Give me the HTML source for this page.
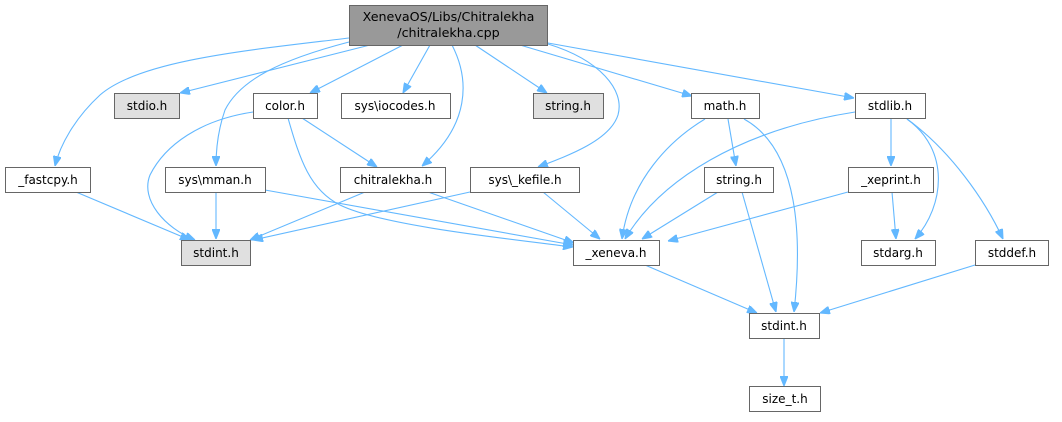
<!DOCTYPE html>
<html><head><meta charset="utf-8"><style>
html,body{margin:0;padding:0;background:#fff;}
text{font-family:"DejaVu Sans","Liberation Sans",sans-serif;font-size:12px;fill:#000;text-anchor:middle;}
rect{stroke:#666;stroke-width:1;}
path{fill:none;stroke:#63b8ff;stroke-width:1.1;}
</style></head><body>
<svg width="1062" height="417" viewBox="0 0 1062 417" xmlns="http://www.w3.org/2000/svg">
<defs><marker id="a" viewBox="0 0 10 8" refX="10" refY="4" markerWidth="10" markerHeight="8" markerUnits="userSpaceOnUse" orient="auto"><path d="M0,0 L10,4 L0,8 z" style="fill:#63b8ff;stroke:#63b8ff"/></marker></defs>
<g marker-end="url(#a)">
<path d="M349,38 C250,50 140,60 100,95 C75,118 60,145 55,166"/>
<path d="M370,45 L180,93"/>
<path d="M349,42 C280,60 240,80 225,110 C218,130 216,150 216,166"/>
<path d="M403,45 L310,93"/>
<path d="M430,45 L403,93"/>
<path d="M452,45 C470,80 470,125 422,166"/>
<path d="M475,45 L547,93"/>
<path d="M548,44 C600,60 625,90 618,115 C610,140 570,155 538,167"/>
<path d="M520,45 L692,96"/>
<path d="M548,43 L854,98"/>
<path d="M253,112 C200,120 165,145 150,175 C140,200 165,228 195,240"/>
<path d="M288,118 C300,160 310,190 340,205 C380,225 500,238 573,247"/>
<path d="M302,118 L377,167"/>
<path d="M76,192 L190,240"/>
<path d="M216,192 L216,239"/>
<path d="M265,190 L573,245"/>
<path d="M365,192 L250,240"/>
<path d="M428,192 L574,243"/>
<path d="M470,192 L253,240"/>
<path d="M543,192 L600,239"/>
<path d="M705,119 C670,140 630,180 622,239"/>
<path d="M728,119 L736,166"/>
<path d="M744,119 C800,150 802,240 794,312"/>
<path d="M855,112 C740,130 660,180 625,239"/>
<path d="M891,119 L891,166"/>
<path d="M907,119 C950,150 945,205 915,239"/>
<path d="M907,119 C950,150 985,200 1003,239"/>
<path d="M718,192 L642,239"/>
<path d="M742,192 L776,312"/>
<path d="M848,192 L668,241"/>
<path d="M892,192 L896,239"/>
<path d="M645,265 L757,313"/>
<path d="M975,265 L820,313"/>
<path d="M784,339 L784,386"/>
</g>
<rect x="349.5" y="5.5" width="198" height="40" fill="#999"/>
<text x="448.5" y="21" style="font-size:12.7px">XenevaOS/Libs/Chitralekha</text>
<text x="448.5" y="37" style="font-size:12.7px">/chitralekha.cpp</text>
<g>
<rect x="114.5" y="93.5" width="65" height="25" fill="#e0e0e0" stroke="#999"/><text x="147" y="110">stdio.h</text>
<rect x="253.5" y="93.5" width="64" height="25" fill="#fff"/><text x="285" y="110">color.h</text>
<rect x="341.5" y="93.5" width="109" height="25" fill="#fff"/><text x="395" y="110">sys\iocodes.h</text>
<rect x="533.5" y="93.5" width="70" height="25" fill="#e0e0e0" stroke="#999"/><text x="568" y="110">string.h</text>
<rect x="691.5" y="93.5" width="68" height="25" fill="#fff"/><text x="725" y="110">math.h</text>
<rect x="855.5" y="93.5" width="70" height="25" fill="#fff"/><text x="890" y="110">stdlib.h</text>
<rect x="5.5" y="167.5" width="85" height="25" fill="#fff"/><text x="48" y="184">_fastcpy.h</text>
<rect x="165.5" y="167.5" width="100" height="25" fill="#fff"/><text x="215" y="184">sys\mman.h</text>
<rect x="340.5" y="167.5" width="105" height="25" fill="#fff"/><text x="393" y="184">chitralekha.h</text>
<rect x="470.5" y="167.5" width="109" height="25" fill="#fff"/><text x="525" y="184">sys\_kefile.h</text>
<rect x="704.5" y="167.5" width="69" height="25" fill="#fff"/><text x="739" y="184">string.h</text>
<rect x="848.5" y="167.5" width="85" height="25" fill="#fff"/><text x="891" y="184">_xeprint.h</text>
<rect x="181.5" y="240.5" width="69" height="25" fill="#e0e0e0" stroke="#999"/><text x="216" y="257">stdint.h</text>
<rect x="573.5" y="240.5" width="86" height="25" fill="#fff"/><text x="616" y="257">_xeneva.h</text>
<rect x="861.5" y="240.5" width="74" height="25" fill="#fff"/><text x="898" y="257">stdarg.h</text>
<rect x="975.5" y="240.5" width="73" height="25" fill="#fff"/><text x="1012" y="257">stddef.h</text>
<rect x="749.5" y="313.5" width="70" height="25" fill="#fff"/><text x="784" y="330">stdint.h</text>
<rect x="749.5" y="386.5" width="71" height="25" fill="#fff"/><text x="785" y="403">size_t.h</text>
</g>
</svg>
</body></html>
